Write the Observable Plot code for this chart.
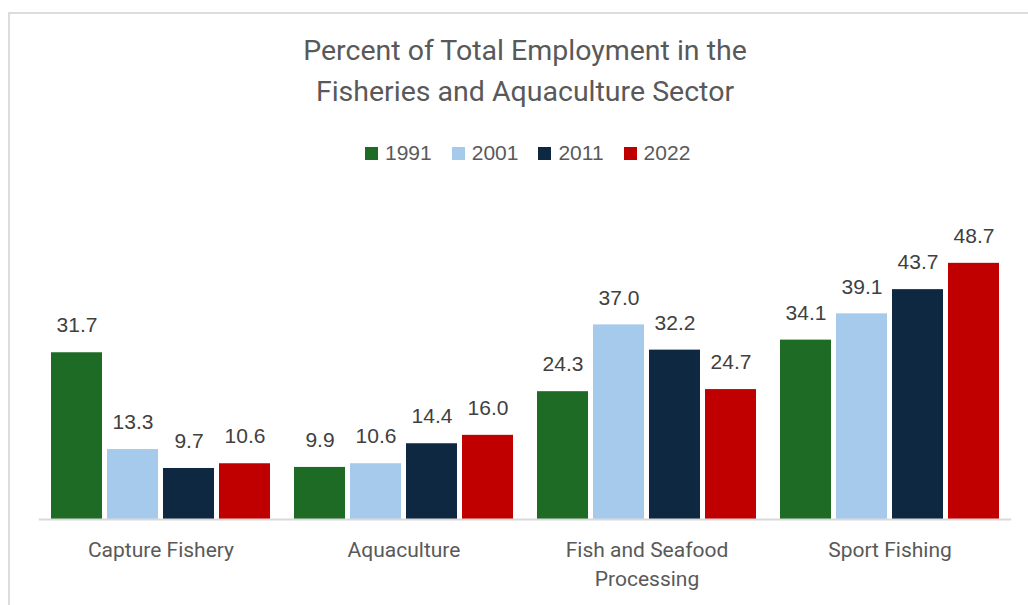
<!DOCTYPE html>
<html>
<head>
<meta charset="utf-8">
<script src="https://cdn.jsdelivr.net/npm/d3@7"></script>
<script src="https://cdn.jsdelivr.net/npm/@observablehq/plot@0.6"></script>
<style>
  html, body { margin: 0; padding: 0; background: #fff; width: 1028px; height: 605px; overflow: hidden; }
  #box { position: absolute; left: 8px; top: 12px; width: 1100px; height: 700px;
         border-left: 2px solid #dcdcdc; border-top: 2px solid #dcdcdc; box-sizing: border-box; }
  #title { position: absolute; left: 8px; width: 1034px; top: 30px; text-align: center;
           font-family: Roboto, sans-serif; font-size: 28.5px; line-height: 41px; color: #595959; }
  #legend { position: absolute; left: 365px; top: 141px; display: flex; align-items: center;
            font-family: "Liberation Sans", Arial, sans-serif; font-size: 21px; color: #595959; }
  .item { display: flex; align-items: center; margin-right: 20px; }
  .sw { width: 13px; height: 13px; margin-right: 7px; }
  #chart { position: absolute; left: 0; top: 170px; }
</style>
</head>
<body>
<div id="box"></div>
<div id="title">Percent of Total Employment in the<br>Fisheries and Aquaculture Sector</div>
<div id="legend"></div>
<div id="chart"></div>
<script>
const categories = ["Capture Fishery", "Aquaculture", "Fish and Seafood Processing", "Sport Fishing"];
const categoryLabels = ["Capture Fishery", "Aquaculture", "Fish and Seafood\nProcessing", "Sport Fishing"];
const years = ["1991", "2001", "2011", "2022"];
const values1991 = [31.7, 9.9, 24.3, 34.1];
const values2001 = [13.3, 10.6, 37.0, 39.1];
const values2011 = [9.7, 14.4, 32.2, 43.7];
const values2022 = [10.6, 16.0, 24.7, 48.7];
const colors = ["#1d6b25", "#a6caec", "#0e2841", "#c00000"];

const series = [values1991, values2001, values2011, values2022];
const table = [];
categories.forEach((c, i) => {
  years.forEach((y, j) => table.push({category: c, year: y, value: series[j][i]}));
});

// legend
const legend = document.getElementById("legend");
years.forEach((y, j) => {
  const it = document.createElement("div");
  it.className = "item";
  it.innerHTML = `<span class="sw" style="background:${colors[j]}"></span><span>${y}</span>`;
  legend.appendChild(it);
});

const chart = Plot.plot({
  width: 1028,
  height: 435,
  marginLeft: 37,
  marginRight: 16,
  marginTop: 86,
  marginBottom: 86,
  fx: {domain: categories, paddingInner: 0.1, paddingOuter: 0.05, axis: null},
  x: {domain: years, paddingInner: 0.09, paddingOuter: 0, axis: null},
  y: {domain: [0, 50], axis: null},
  color: {domain: years, range: colors},
  style: {fontFamily: "'Liberation Sans', Arial, sans-serif", background: "transparent"},
  marks: [
    Plot.barY(table, {fx: "category", x: "year", y: "value", fill: "year"}),
    Plot.ruleY([0], {stroke: "#d9d9d9", strokeWidth: 2, insetLeft: -12.2, insetRight: -12.2}),
    Plot.text(table, {fx: "category", x: "year", y: "value", text: d => d.value.toFixed(1),
      dy: -27, fontSize: 21, fill: "#404040"}),
    Plot.text(categories, {fx: d => d, text: (d, i) => categoryLabels[i], frameAnchor: "bottom",
      lineAnchor: "top", dy: 17, fontSize: 21, lineHeight: 1.38, fill: "#595959",
      fontFamily: "Roboto, sans-serif"})
  ]
});
document.getElementById("chart").appendChild(chart);
</script>
</body>
</html>
